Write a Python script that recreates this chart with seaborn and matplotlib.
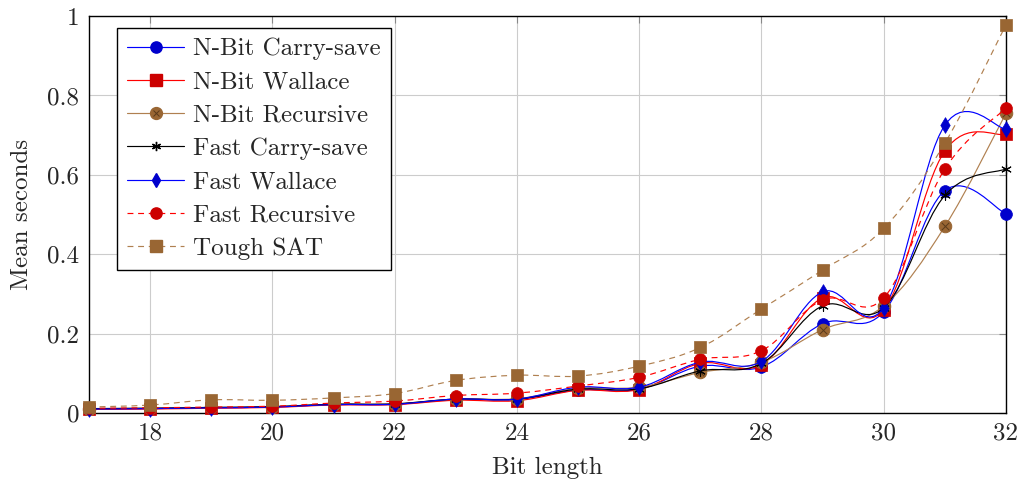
import numpy as np
import pandas as pd
import matplotlib
matplotlib.use("Agg")
import matplotlib.pyplot as plt
from matplotlib.path import Path
from matplotlib.patches import PathPatch
from matplotlib.lines import Line2D
from matplotlib.legend_handler import HandlerTuple
import seaborn as sns

bits = [17, 18, 19, 20, 21, 22, 23, 24, 25, 26, 27, 28, 29, 30, 31, 32]

nbit_carry = [0.010, 0.011, 0.013, 0.015, 0.021, 0.022, 0.034, 0.034, 0.058, 0.060, 0.118, 0.116, 0.225, 0.255, 0.560, 0.502]
nbit_wallace = [0.009, 0.010, 0.012, 0.014, 0.020, 0.021, 0.032, 0.031, 0.057, 0.059, 0.125, 0.122, 0.290, 0.260, 0.660, 0.702]
nbit_recursive = [0.011, 0.012, 0.014, 0.016, 0.022, 0.023, 0.035, 0.036, 0.062, 0.065, 0.102, 0.128, 0.210, 0.270, 0.470, 0.755]
fast_carry = [0.011, 0.012, 0.014, 0.016, 0.022, 0.023, 0.035, 0.035, 0.060, 0.061, 0.106, 0.125, 0.270, 0.265, 0.548, 0.615]
fast_wallace = [0.010, 0.011, 0.013, 0.015, 0.021, 0.022, 0.035, 0.035, 0.065, 0.065, 0.128, 0.130, 0.305, 0.265, 0.725, 0.715]
fast_recursive = [0.012, 0.013, 0.015, 0.017, 0.025, 0.030, 0.044, 0.050, 0.068, 0.090, 0.135, 0.157, 0.285, 0.290, 0.615, 0.768]
tough_sat = [0.015, 0.020, 0.033, 0.032, 0.038, 0.049, 0.082, 0.095, 0.093, 0.118, 0.165, 0.262, 0.360, 0.465, 0.680, 0.978]

x_ticks = [18, 20, 22, 24, 26, 28, 30, 32]
y_ticks = [0, 0.2, 0.4, 0.6, 0.8, 1]
y_ticklabels = ["0", "0.2", "0.4", "0.6", "0.8", "1"]

BLUE = "#0000ff"
RED = "#ff0000"
BROWN = "#b08050"
BLUE_F = "#0000cc"
RED_F = "#cc0000"
BROWN_F = "#996633"

# name, values, line colour, marker, marker fill, marker size, dashed
series = [
    ("N-Bit Carry-save", nbit_carry, BLUE, "o", BLUE_F, 8.5, False),
    ("N-Bit Wallace", nbit_wallace, RED, "s", RED_F, 8.5, False),
    ("N-Bit Recursive", nbit_recursive, BROWN, "otimes", BROWN_F, 9, False),
    ("Fast Carry-save", fast_carry, "black", (6, 2, 0), "black", 7, False),
    ("Fast Wallace", fast_wallace, BLUE, "d", BLUE_F, 8, False),
    ("Fast Recursive", fast_recursive, RED, "o", RED_F, 8.5, True),
    ("Tough SAT", tough_sat, BROWN, "s", BROWN_F, 8.5, True),
]

sns.set_style("white")
plt.rcParams["font.family"] = "cmr10"
plt.rcParams["mathtext.fontset"] = "cm"
plt.rcParams["axes.unicode_minus"] = False

FS = 18

fig = plt.figure(figsize=(10.24, 4.87), dpi=100)
ax = fig.add_axes([0.0869, 0.152, 0.8955, 0.815])


def smooth_path(xs, ys, t=0.183):
    # tikz-style smooth curve through the points
    pts = np.column_stack([xs, ys]).astype(float)
    n = len(pts)
    verts = [pts[0]]
    codes = [Path.MOVETO]
    for i in range(n - 1):
        p_prev = pts[max(i - 1, 0)]
        p_next2 = pts[min(i + 2, n - 1)]
        c1 = pts[i] + t * (pts[i + 1] - p_prev)
        c2 = pts[i + 1] - t * (p_next2 - pts[i])
        verts += [c1, c2, pts[i + 1]]
        codes += [Path.CURVE4] * 3
    return Path(verts, codes)


handles = []
for k, (name, vals, col, mk, fill, ms, dashed) in enumerate(series):
    ls = (0, (5, 4)) if dashed else "-"
    patch = PathPatch(smooth_path(bits, vals), facecolor="none", edgecolor=col,
                      lw=0.85, linestyle=ls, zorder=3 + 2 * k)
    ax.add_patch(patch)
    df = pd.DataFrame({"bits": bits, "val": vals})
    if mk == "otimes":
        sns.scatterplot(data=df, x="bits", y="val", ax=ax, marker="o", s=ms ** 2,
                        color=fill, edgecolor=fill, zorder=4 + 2 * k, legend=False)
        sns.scatterplot(data=df, x="bits", y="val", ax=ax, marker="x", s=(ms * 0.6) ** 2,
                        color="#5a3a1a", linewidth=0.7, zorder=4 + 2 * k, legend=False)
        h = (Line2D([0], [0], color=col, lw=0.85, marker="o", markersize=ms * 0.95,
                    markerfacecolor=fill, markeredgecolor=fill),
             Line2D([0], [0], lw=0, marker="x", markersize=ms * 0.55,
                    markeredgecolor="#5a3a1a", markeredgewidth=0.7))
    elif mk == (6, 2, 0):
        sns.scatterplot(data=df, x="bits", y="val", ax=ax, marker=(6, 2, 0), s=ms ** 2,
                        color="black", linewidth=0.8, zorder=4 + 2 * k, legend=False)
        h = Line2D([0], [0], color=col, lw=0.85, marker=mk, markersize=ms * 0.95,
                   markerfacecolor=fill, markeredgecolor=fill)
    else:
        sns.scatterplot(data=df, x="bits", y="val", ax=ax, marker=mk, s=ms ** 2,
                        color=fill, edgecolor=fill, linewidth=0.5, zorder=4 + 2 * k, legend=False)
        h = Line2D([0], [0], color=col, lw=0.85, linestyle=ls, marker=mk,
                   markersize=ms * 0.95, markerfacecolor=fill, markeredgecolor=fill)
    handles.append(h)

# markers on the axis edges are not cut off
for c in ax.collections:
    c.set_clip_on(False)

ax.set_xlim(17, 32)
ax.set_ylim(0, 1)
ax.set_xticks(x_ticks)
ax.set_yticks(y_ticks)
ax.set_yticklabels(y_ticklabels)
ax.grid(True, color="#cccccc", lw=0.8)
ax.set_axisbelow(True)
ax.tick_params(direction="in", top=True, right=True, length=5, width=0.8,
               color="#888888", labelsize=FS, pad=7)
for sp in ax.spines.values():
    sp.set_color("black")
    sp.set_linewidth(1.0)
    sp.set_zorder(2.5)
ax.set_xlabel("Bit length", fontsize=FS, labelpad=9)
ax.set_ylabel("Mean seconds", fontsize=FS, labelpad=10)

labels = [s[0] for s in series]
leg = ax.legend(handles=handles, labels=labels, loc="upper left",
                bbox_to_anchor=(0.0305, 0.970), borderaxespad=0, fontsize=FS,
                frameon=True, fancybox=False, framealpha=1, edgecolor="black",
                handlelength=2.3, labelspacing=0.43, borderpad=0.4, handletextpad=0.35,
                handler_map={tuple: HandlerTuple(ndivide=1, pad=0)})
leg.get_frame().set_linewidth(1.0)
leg.set_zorder(40)

fig.savefig("out.png", dpi=100)
